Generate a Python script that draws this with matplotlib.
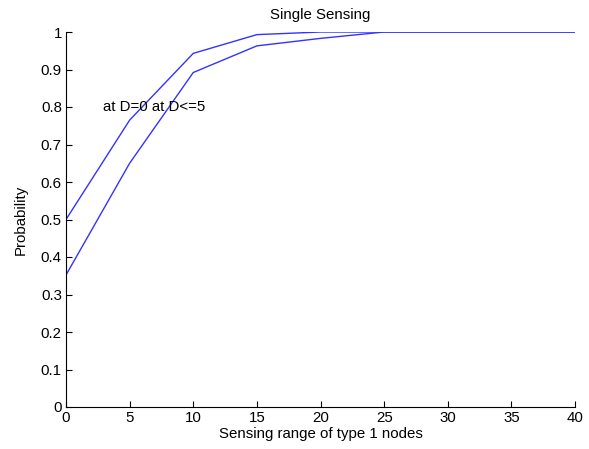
import matplotlib
matplotlib.use("Agg")
import matplotlib.pyplot as plt

plt.rcParams['font.family'] = ['Liberation Sans', 'DejaVu Sans']

sensing_range = [0, 5, 10, 15, 20, 25, 30, 35, 40]
prob_d0 = [0.50, 0.765, 0.943, 0.993, 1.0, 1.0, 1.0, 1.0, 1.0]
prob_d5 = [0.352, 0.65, 0.892, 0.963, 0.983, 1.0, 1.0, 1.0, 1.0]

fs = 10.8

fig = plt.figure(figsize=(5.89, 4.49), dpi=100)
ax = fig.add_axes([66/589, 42/449, 509/589, 375/449])

ax.plot(sensing_range, prob_d0, color='#3333ff', lw=1)
ax.plot(sensing_range, prob_d5, color='#3333ff', lw=1)
ax.text(2.9, 0.80, 'at D=0 at D<=5', fontsize=fs, va='center', ha='left')

ax.set_xlim(0, 40)
ax.set_ylim(0, 1)
ax.set_xticks(range(0, 41, 5))
ax.set_yticks([i / 10 for i in range(11)])
ax.set_yticklabels(['0', '0.1', '0.2', '0.3', '0.4', '0.5', '0.6', '0.7', '0.8', '0.9', '1'])
ax.tick_params(direction='in', labelsize=fs, length=4, pad=3)
ax.spines['top'].set_visible(False)
ax.spines['right'].set_visible(False)

ax.set_title('Single Sensing', fontsize=fs, pad=9)
ax.set_xlabel('Sensing range of type 1 nodes', fontsize=fs, labelpad=1)
ax.set_ylabel('Probability', fontsize=fs, labelpad=9)

fig.savefig('out.png', dpi=100)
